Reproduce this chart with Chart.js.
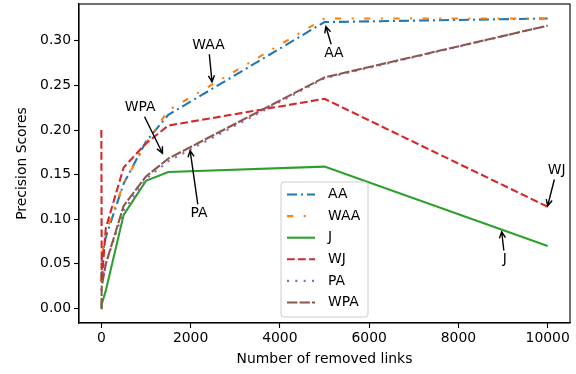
<!DOCTYPE html>
<html>
<head>
<meta charset="utf-8">
<script src="https://cdn.jsdelivr.net/npm/chart.js@4/dist/chart.umd.min.js"></script>
<style>
  html, body { margin: 0; padding: 0; background: #fff; }
  canvas { display: block; }
</style>
</head>
<body>
<canvas id="precisionChart" width="576" height="374"></canvas>
<script>
// removed links (x) and precision per method
const removedLinks = [0, 10, 100, 500, 1000, 1500, 5000, 10000];
const aaScores  = [0.030, 0.055, 0.080, 0.140, 0.187, 0.217, 0.321, 0.325];
const waaScores = [0.030, 0.058, 0.085, 0.140, 0.185, 0.222, 0.325, 0.325];
const jScores   = [0.000, 0.005, 0.020, 0.105, 0.143, 0.153, 0.159, 0.070];
const wjScores  = [0.200, 0.030, 0.090, 0.158, 0.185, 0.205, 0.235, 0.114];
const paScores  = [0.020, 0.030, 0.050, 0.110, 0.145, 0.165, 0.258, 0.317];
const wpaScores = [0.000, 0.025, 0.050, 0.115, 0.148, 0.168, 0.259, 0.317];

const methodNames = ['AA', 'WAA', 'J', 'WJ', 'PA', 'WPA'];
const xTicks = [0, 2000, 4000, 6000, 8000, 10000];
const yTicks = [0.00, 0.05, 0.10, 0.15, 0.20, 0.25, 0.30];

// text labels with arrows, in data coordinates: [text, textX, textY, tipX, tipY]
const arrowNotes = [
    ['WAA', 2400, 0.295, 2480, 0.254],
    ['AA', 5210, 0.286, 5030, 0.316],
    ['WPA', 870, 0.225, 1370, 0.174],
    ['PA', 2190, 0.1065, 1990, 0.177],
    ['WJ', 10200, 0.1547, 10000, 0.1150],
    ['J', 9040, 0.0549, 8970, 0.0860]
];

const FONT = "'DejaVu Sans', sans-serif";
const px = pt => pt * 100 / 72;

const seriesValues = [aaScores, waaScores, jScores, wjScores, paScores, wpaScores];
const seriesColors = ['#1f77b4', '#ff7f0e', '#2ca02c', '#d62728', '#9467bd', '#8c564b'];
const seriesDashes = [
    [10, 4, 2, 4],
    [px(4.5), px(7.5), px(1.5), px(7.5)],
    [],
    [px(5.55), px(2.4)],
    [px(1.5), px(4.5)],
    [px(7.5), px(1.5)]
];

const datasets = seriesValues.map((vals, i) => ({
    label: methodNames[i],
    data: removedLinks.map((x, j) => ({ x: x, y: vals[j] })),
    borderColor: seriesColors[i],
    backgroundColor: seriesColors[i],
    borderDash: seriesDashes[i],
    borderWidth: px(1.5),
    pointRadius: 0,
    tension: 0,
    fill: false,
    order: seriesValues.length - i
}));

// top/right spines, legend box and arrow labels
const extrasPlugin = {
    id: 'extras',
    afterDraw(chart) {
        const ctx = chart.ctx;
        const a = chart.chartArea;
        const xs = chart.scales.x, ys = chart.scales.y;

        ctx.save();
        ctx.strokeStyle = '#000';
        ctx.lineWidth = px(0.8);
        ctx.strokeRect(a.left, a.top, a.right - a.left, a.bottom - a.top);

        // arrows
        ctx.font = '13.9px ' + FONT;
        ctx.fillStyle = '#000';
        ctx.textAlign = 'center';
        ctx.textBaseline = 'middle';
        arrowNotes.forEach(n => {
            const tx = xs.getPixelForValue(n[1]), ty = ys.getPixelForValue(n[2]);
            const px2 = xs.getPixelForValue(n[3]), py2 = ys.getPixelForValue(n[4]);
            ctx.fillText(n[0], tx, ty);
            const hw = ctx.measureText(n[0]).width / 2 + 2, hh = 9;
            const dx = px2 - tx, dy = py2 - ty;
            const t = Math.min(Math.abs(dx) > 0 ? hw / Math.abs(dx) : 1e9, Math.abs(dy) > 0 ? hh / Math.abs(dy) : 1e9);
            const sx = tx + dx * t, sy = ty + dy * t;
            const ang = Math.atan2(py2 - sy, px2 - sx);
            ctx.strokeStyle = '#000';
            ctx.lineWidth = 1.4;
            ctx.setLineDash([]);
            ctx.beginPath();
            ctx.moveTo(sx, sy);
            ctx.lineTo(px2, py2);
            ctx.moveTo(px2 - 7 * Math.cos(ang - 0.45), py2 - 7 * Math.sin(ang - 0.45));
            ctx.lineTo(px2, py2);
            ctx.lineTo(px2 - 7 * Math.cos(ang + 0.45), py2 - 7 * Math.sin(ang + 0.45));
            ctx.stroke();
        });

        // legend
        const lx = a.left + 202, ly = a.top + 178, lw = 87, lh = 135;
        ctx.fillStyle = 'rgba(255,255,255,0.8)';
        ctx.strokeStyle = '#cccccc';
        ctx.lineWidth = 1;
        ctx.beginPath();
        ctx.roundRect(lx, ly, lw, lh, 3);
        ctx.fill();
        ctx.stroke();
        ctx.textAlign = 'left';
        chart.data.datasets.forEach((ds, i) => {
            const y = ly + 12.5 + i * 21.6;
            ctx.strokeStyle = ds.borderColor;
            ctx.lineWidth = ds.borderWidth;
            ctx.setLineDash(ds.borderDash);
            ctx.beginPath();
            ctx.moveTo(lx + 6, y);
            ctx.lineTo(lx + 34, y);
            ctx.stroke();
            ctx.setLineDash([]);
            ctx.fillStyle = '#000';
            ctx.fillText(ds.label, lx + 47, y);
        });
        ctx.restore();
    }
};

new Chart(document.getElementById('precisionChart'), {
    type: 'line',
    data: { datasets: datasets },
    options: {
        responsive: false,
        animation: false,
        layout: { padding: { left: 0, top: 4, right: 6, bottom: 0 } },
        plugins: { legend: { display: false }, tooltip: { enabled: false } },
        scales: {
            x: {
                type: 'linear',
                min: -500,
                max: 10500,
                afterBuildTicks: s => { s.ticks = xTicks.map(v => ({ value: v })); },
                afterFit: s => { s.height = 51; s.paddingLeft = 0; s.paddingRight = 0; },
                grid: { drawOnChartArea: false, drawTicks: true, tickLength: 5, tickColor: '#000', tickWidth: px(0.8) },
                border: { display: true, color: '#000', width: px(0.8) },
                ticks: { color: '#000', font: { family: FONT, size: 13.9 }, padding: 2, maxRotation: 0, callback: v => String(v) },
                title: { display: true, text: 'Number of removed links', color: '#000', font: { family: FONT, size: 13.9 }, padding: { top: 0, bottom: 6 } }
            },
            y: {
                type: 'linear',
                min: -0.01625,
                max: 0.34125,
                afterBuildTicks: s => { s.ticks = yTicks.map(v => ({ value: v })); },
                afterFit: s => { s.width = 79; s.paddingTop = 0; s.paddingBottom = 0; },
                grid: { drawOnChartArea: false, drawTicks: true, tickLength: 5, tickColor: '#000', tickWidth: px(0.8) },
                border: { display: true, color: '#000', width: px(0.8) },
                ticks: { color: '#000', font: { family: FONT, size: 13.9 }, padding: 3, callback: v => v.toFixed(2) },
                title: { display: true, text: 'Precision Scores', color: '#000', font: { family: FONT, size: 13.9 }, padding: { top: 14, bottom: 0 } }
            }
        }
    },
    plugins: [extrasPlugin]
});
</script>
</body>
</html>
